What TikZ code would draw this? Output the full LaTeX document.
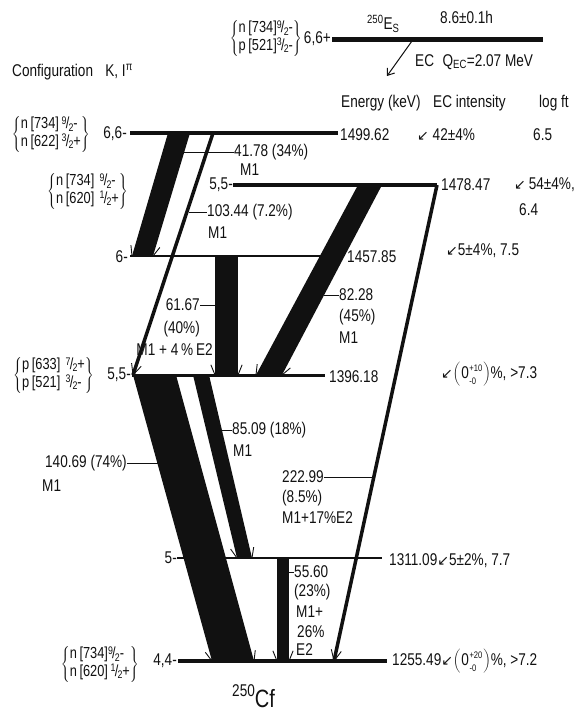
\documentclass[tikz,border=0pt]{standalone}
\usepackage{fontspec}
\setmainfont{Liberation Sans}[FakeStretch=0.8]
\newfontfamily\arrowfont{DejaVu Sans}
\usepackage{tikz}
\usetikzlibrary{arrows.meta,calc}
\definecolor{schemeink}{HTML}{111111}
\newcommand{\kfrac}[2]{\raisebox{0.55ex}{\fontsize{11}{11}\selectfont #1}\kern-0.8pt/\kern-0.8pt\raisebox{-0.25ex}{\fontsize{11}{11}\selectfont #2}}
\newcommand{\ecdown}{{\fontsize{14}{14}\arrowfont ↙}}
\newcommand{\zerounc}[1]{\(\biggl(\)\kern1pt0\kern0.5pt\raisebox{0.8pt}{\fontsize{9.5}{11}\selectfont\begin{tabular}{@{}l@{}}+#1\\[1.6pt]-0\end{tabular}}\kern1pt\(\biggr)\)}
\newcommand{\cfgpair}[2]{\(\left\{\begin{tabular}{@{}l@{}}#1\\#2\end{tabular}\right\}\)}
% band: top-left, top-right, bottom-left, bottom-right
\newcommand{\gband}[4]{%
  \fill[band] (#1) -- (#2) -- (#4) -- (#3) -- cycle;
  \draw[barb] (#3) -- ($(#3)!11pt!22:(#1)$);
  \draw[barb] (#4) -- ($(#4)!11pt!-22:(#2)$);
}
\newcommand{\gline}[2]{%
  \draw[gline] (#1) -- (#2);
  \draw[barb] ($(#2)!12pt!25:(#1)$) -- (#2) -- ($(#2)!12pt!-25:(#1)$);
}
\tikzset{
  lvl/.style={line width=4pt,draw=schemeink},
  thinlvl/.style={line width=1.1pt,draw=schemeink},
  band/.style={fill=schemeink},
  gline/.style={line width=3.5pt,draw=schemeink},
  barb/.style={line width=0.9pt,draw=schemeink},
  leader/.style={line width=0.7pt,draw=schemeink},
  lbl/.style={inner sep=0pt,text=schemeink},
  cfg/.style={inner sep=0pt,text=schemeink,font=\fontsize{16}{17}\selectfont},
  ecarrow/.style={-{Straight Barb[length=6pt,width=9pt]},line width=1pt,draw=schemeink}
}

\begin{document}
\begin{tikzpicture}[x=1pt,y={(0pt,-1pt)},font=\fontsize{17}{20}\selectfont]
  \useasboundingbox (0,0) rectangle (579,715);
  % levels
  \coordinate (es0) at (332,39);  \coordinate (es1) at (543,39);
  \coordinate (lA0) at (130,133); \coordinate (lA1) at (338,133);
  \coordinate (lB0) at (233,185); \coordinate (lB1) at (437,185);
  \coordinate (lC0) at (130,256); \coordinate (lC1) at (323,256);
  \coordinate (lD0) at (132,375); \coordinate (lD1) at (325,375);
  \coordinate (lE0) at (177,558); \coordinate (lE1) at (382,558);
  \coordinate (lF0) at (178,661); \coordinate (lF1) at (387,661);
  \draw[lvl,line width=5pt] (es0) -- (es1);
  \draw[lvl] (lA0) -- (lA1);
  \draw[lvl,line width=3.5pt] (lB0) -- (lB1);
  \draw[thinlvl] (lC0) -- (lC1);
  \draw[lvl,line width=3pt] (lD0) -- (lD1);
  \draw[thinlvl] (lE0) -- (lE1);
  \draw[lvl] (lF0) -- (lF1);

  % transitions
  \coordinate (tA1) at (168,133); \coordinate (tA2) at (190,133);
  \coordinate (tA3) at (132,256); \coordinate (tA4) at (153,256);
  \gband{tA1}{tA2}{tA3}{tA4}
  \coordinate (tB1) at (213,133); \coordinate (tB2) at (133,375);
  \gline{tB1}{tB2}
  \coordinate (tC1) at (215,256); \coordinate (tC2) at (238,256);
  \coordinate (tC3) at (215,375); \coordinate (tC4) at (238,375);
  \gband{tC1}{tC2}{tC3}{tC4}
  \coordinate (tD1) at (358,185); \coordinate (tD2) at (382,185);
  \coordinate (tD3) at (256,375); \coordinate (tD4) at (282,375);
  \gband{tD1}{tD2}{tD3}{tD4}
  \coordinate (tE1) at (437,185); \coordinate (tE2) at (334,661);
  \gline{tE1}{tE2}
  \coordinate (tF1) at (133,375); \coordinate (tF2) at (176,375);
  \coordinate (tF3) at (212,661); \coordinate (tF4) at (254,661);
  \gband{tF1}{tF2}{tF3}{tF4}
  \coordinate (tG1) at (193,375); \coordinate (tG2) at (209,375);
  \coordinate (tG3) at (237,558); \coordinate (tG4) at (252,558);
  \gband{tG1}{tG2}{tG3}{tG4}
  \coordinate (tH1) at (277,558); \coordinate (tH2) at (289,558);
  \coordinate (tH3) at (277,661); \coordinate (tH4) at (289,661);
  \gband{tH1}{tH2}{tH3}{tH4}

  % header
  \node[lbl,anchor=west] (cfgtitle) at (12,72) {Configuration\enspace\ K, I\textsuperscript{π}};
  \node[lbl,anchor=west] (parent) at (367,24) {\textsuperscript{250}E\textsubscript{S}};
  \node[lbl,anchor=west] (halflife) at (440,17) {8.6±0.1h};
  \coordinate (ecS) at (412,41); \coordinate (ecE) at (387,76);
  \draw[ecarrow] (ecS) -- (ecE);
  \node[lbl,anchor=west] (qec) at (415,62) {EC\enspace Q\textsubscript{EC}=2.07 MeV};
  \node[lbl,anchor=west] (hEnergy) at (341,103) {Energy (keV)};
  \node[lbl,anchor=west] (hIntens) at (433,103) {EC intensity};
  \node[lbl,anchor=west] (hLogft) at (539,103) {log ft};

  % spins and configurations
  \node[lbl,anchor=east] (kEs) at (331,39) {6,6+};
  \node[cfg,anchor=east] (cfgEs) at (302,38) {\cfgpair{n\,[734]\kfrac{9}{2}-}{p\,[521]\kfrac{3}{2}-}};
  \node[lbl,anchor=east] (kA) at (127,134) {6,6-};
  \node[cfg,anchor=east] (cfgA) at (90,134) {\cfgpair{n\,[734]\,\kfrac{9}{2}-}{n\,[622]\,\kfrac{3}{2}+}};
  \node[lbl,anchor=east] (kB) at (233,185) {5,5-};
  \node[cfg,anchor=east] (cfgB) at (128,191) {\cfgpair{n\,[734]\,\,\kfrac{9}{2}-}{n\,[620]\,\,\kfrac{1}{2}+}};
  \node[lbl,anchor=east] (kC) at (128,257) {6-};
  \node[lbl,anchor=east] (kD) at (131,375) {5,5-};
  \node[cfg,anchor=east] (cfgD) at (94,375) {\cfgpair{p\,[633]\,\,\kfrac{7}{2}+}{p\,[521]\,\,\kfrac{3}{2}-}};
  \node[lbl,anchor=east] (kE) at (177,558) {5-};
  \node[lbl,anchor=east] (kF) at (177,661) {4,4-};
  \node[cfg,anchor=east] (cfgF) at (139,664) {\cfgpair{n\,[734]\kfrac{9}{2}-}{n\,[620]\,\kfrac{1}{2}+}};

  % energies, EC intensities, log ft
  \node[lbl,anchor=west] (eA) at (340,135) {1499.62};
  \node[lbl,anchor=west] (iA) at (417,135) {\ecdown\ 42±4\%};
  \node[lbl,anchor=west] (fA) at (533,135) {6.5};
  \node[lbl,anchor=west] (eB) at (441,185) {1478.47};
  \node[lbl,anchor=west] (iB) at (514,185) {\ecdown\,54±4\%,};
  \node[lbl,anchor=west] (fB) at (519,210) {6.4};
  \node[lbl,anchor=west] (eC) at (347,257) {1457.85};
  \node[lbl,anchor=west] (iC) at (446,251) {\ecdown 5±4\%, 7.5};
  \node[lbl,anchor=west] (eD) at (329,377) {1396.18};
  \node[lbl,anchor=west] (iD) at (441,375) {\ecdown\zerounc{10}\%, >7.3};
  \node[lbl,anchor=west] (eE) at (389,561) {1311.09\ecdown 5±2\%, 7.7};
  \node[lbl,anchor=west] (eF) at (392,662) {1255.49\ecdown\zerounc{20}\%, >7.2};

  % gamma labels
  \node[lbl,anchor=west] (gA) at (234,152) {41.78 (34\%)};
  \node[lbl,anchor=west] (gAm) at (240,170) {M1};
  \draw[leader] (184,152) -- (gA.west);
  \node[lbl,anchor=west] (gB) at (207,212) {103.44 (7.2\%)};
  \node[lbl,anchor=west] (gBm) at (208,233) {M1};
  \draw[leader] (189,212) -- (gB.west);
  \node[lbl,anchor=east] (gC) at (200,305) {61.67};
  \node[lbl,anchor=east] (gCp) at (200,329) {(40\%)};
  \node[lbl,anchor=east] (gCm) at (213,350) {M1 + 4\,\%\,E2};
  \draw[leader] (gC.east) -- (tC1 |- gC.east);
  \node[lbl,anchor=west] (gD) at (339,295) {82.28};
  \node[lbl,anchor=west] (gDp) at (339,317) {(45\%)};
  \node[lbl,anchor=west] (gDm) at (339,338) {M1};
  \draw[leader] (324,295) -- (gD.west);
  \node[lbl,anchor=west] (gG) at (232,430) {85.09 (18\%)};
  \node[lbl,anchor=west] (gGm) at (233,451) {M1};
  \draw[leader] (220,430) -- (gG.west);
  \node[lbl,anchor=east] (gF) at (127,463) {140.69 (74\%)};
  \node[lbl,anchor=west] (gFm) at (42,486) {M1};
  \draw[leader] (gF.east) -- (158,463);
  \node[lbl,anchor=west] (gE) at (282,477) {222.99};
  \node[lbl,anchor=west] (gEp) at (282,498) {(8.5\%)};
  \node[lbl,anchor=west] (gEm) at (282,518) {M1+17\%E2};
  \draw[leader] (gE.east) -- (374,477);
  \node[lbl,anchor=west] (gH) at (294,572) {55.60};
  \node[lbl,anchor=west] (gHp) at (294,592) {(23\%)};
  \node[lbl,anchor=west] (gHm) at (296,612) {M1+};
  \node[lbl,anchor=west] (gHq) at (297,632) {26\%};
  \node[lbl,anchor=west] (gHe) at (296,650) {E2};
  \draw[leader] (tH2 |- gH.west) -- (gH.west);

  \node[lbl,anchor=base west] (daughter) at (232,707) {\raisebox{11pt}{\fontsize{17}{17}\selectfont 250}{\fontsize{25}{25}\selectfont Cf}};
\end{tikzpicture}
\end{document}
